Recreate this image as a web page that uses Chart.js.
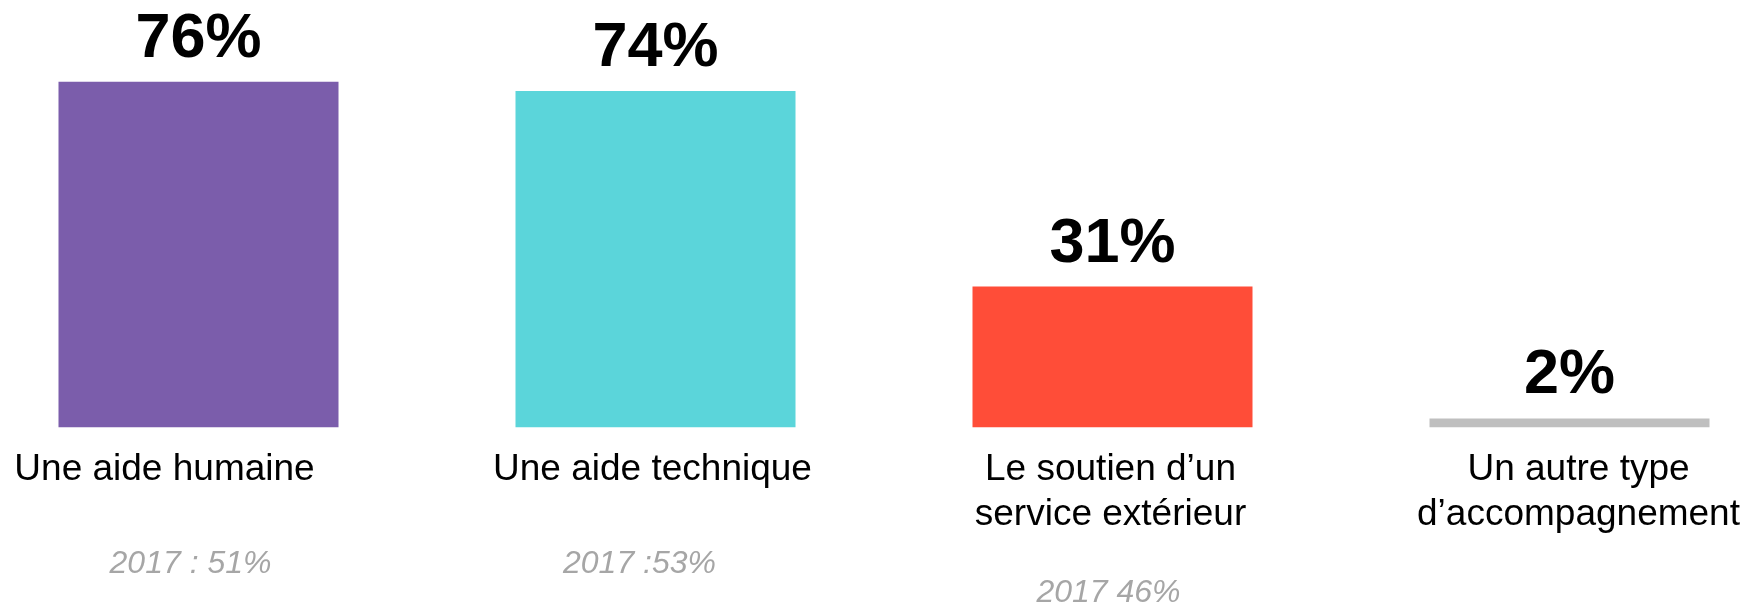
<!DOCTYPE html>
<html>
<head>
<meta charset="utf-8">
<script src="https://cdn.jsdelivr.net/npm/chart.js@4.4.1/dist/chart.umd.min.js"></script>
<style>
  html, body { margin: 0; padding: 0; background: #ffffff; overflow: hidden; width: 1750px; height: 606px; }
  #wrap { position: absolute; left: -30px; top: 0; width: 1828px; height: 606px; }
</style>
</head>
<body>
<div id="wrap"><canvas id="c" width="1828" height="606"></canvas></div>
<script>
// ---- data ----
const categories = [
  ["Une aide humaine"],
  ["Une aide technique"],
  ["Le soutien d\u2019un", "service ext\u00e9rieur"],
  ["Un autre type", "d\u2019accompagnement"]
];
const values = [76, 74, 31, 2];
const valueLabels = ["76%", "74%", "31%", "2%"];
const notes2017 = ["2017 : 51%", "2017 :53%", "2017 46%", ""];

// ---- style ----
const barColors = ["#7b5dab", "#5bd5da", "#ff4d38", "#bfbfbf"];
const labelNudge = [-34, -3, -2, 9];
const noteNudge = [-8, -16, -4, 0];
const FONT = "'Liberation Sans', Arial, Helvetica, sans-serif";

const textPlugin = {
  id: 'texts',
  afterDatasetsDraw(chart) {
    const ctx = chart.ctx;
    const meta = chart.getDatasetMeta(0);
    const xs = chart.scales.x;
    ctx.save();
    ctx.textAlign = 'center';
    ctx.textBaseline = 'alphabetic';
    meta.data.forEach((bar, i) => {
      // value label above bar
      ctx.fillStyle = '#000000';
      ctx.font = "bold 63px " + FONT;
      ctx.fillText(valueLabels[i], bar.x, bar.y - 25);
      // category label
      const cx = xs.getPixelForValue(i);
      ctx.font = "37px " + FONT;
      const lines = categories[i];
      lines.forEach((ln, k) => {
        ctx.fillText(ln, cx + labelNudge[i], 480 + k * 45);
      });
      // 2017 note
      if (notes2017[i]) {
        ctx.fillStyle = '#a6a6a6';
        ctx.font = "italic 32px " + FONT;
        ctx.fillText(notes2017[i], cx + noteNudge[i], 573 + (lines.length - 1) * 29);
      }
    });
    ctx.restore();
  }
};

new Chart(document.getElementById('c'), {
  type: 'bar',
  data: {
    labels: categories.map(c => c.join(' ')),
    datasets: [{
      data: values,
      backgroundColor: barColors,
      borderWidth: 0,
      barPercentage: 0.6127,
      categoryPercentage: 1.0
    }]
  },
  options: {
    responsive: false,
    animation: false,
    layout: { padding: { top: 0, bottom: 178.5, left: 0, right: 0 } },
    plugins: { legend: { display: false }, tooltip: { enabled: false } },
    scales: {
      x: { display: false, grid: { display: false } },
      y: { display: false, min: 0, max: 94, grid: { display: false } }
    }
  },
  plugins: [textPlugin]
});
</script>
</body>
</html>
